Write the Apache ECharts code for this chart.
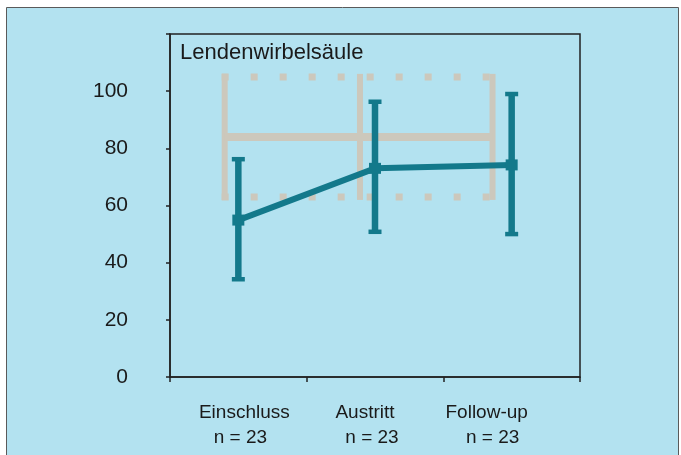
<!DOCTYPE html>
<html><head><meta charset="utf-8">
<script src="https://cdn.jsdelivr.net/npm/echarts@6/dist/echarts.min.js"></script>
<style>html,body{margin:0;padding:0;background:#fff}#c{width:681px;height:455px}</style>
</head><body><div id="c"></div>
<script>
// ---- data ----
const categories = ['Einschluss', 'Austritt', 'Follow-up'];
const sampleSizes = [23, 23, 23];
const means = [54.9, 73.0, 74.2];
const lowerBounds = [34.2, 50.8, 50.0];
const upperBounds = [76.2, 96.3, 99.0];
const normX = [-0.1, 0.89, 1.86];          // reference frame positions (category units)
const normValues = [63, 84, 105];          // lower, mean, upper of reference
const yTickLabels = [0, 20, 40, 60, 80, 100];
const panelTitle = 'Lendenwirbelsäule';

// ---- style ----
const FONT = '"Liberation Sans", Arial, sans-serif';
const TEAL = '#13798b';
const GRAY = '#ccc8bc';
const INK = '#1a1a1a';
const labelShift = [[6, 2], [-10, -3], [-25, -19]];

function pad(s) { return s >= 0 ? [0, 0, 0, 2 * s] : [0, -2 * s, 0, 0]; }
const rich = {};
categories.forEach((c, i) => {
  rich['a' + i] = { fontSize: 19, fontFamily: FONT, color: INK, lineHeight: 25, align: 'center', padding: pad(labelShift[i][0]) };
  rich['b' + i] = { fontSize: 19, fontFamily: FONT, color: INK, lineHeight: 25, align: 'center', padding: pad(labelShift[i][1]) };
});

const chart = echarts.init(document.getElementById('c'), null, { renderer: 'canvas' });
chart.setOption({
  backgroundColor: '#ffffff',
  animation: false,
  graphic: { elements: [{
    type: 'rect', z: -100, silent: true,
    shape: { x: 6.5, y: 7.5, width: 672, height: 460 },
    style: { fill: '#b3e2f0', stroke: '#5a5a5a', lineWidth: 1 }
  }] },
  title: {
    text: panelTitle, left: 180, top: 42, padding: 0,
    textStyle: { fontSize: 22, fontWeight: 'normal', color: INK, fontFamily: FONT }
  },
  grid: { left: 170, right: 101, top: 34, bottom: 78, show: true, borderColor: '#222', borderWidth: 1.5, backgroundColor: 'transparent' },
  xAxis: [{
    type: 'category', data: categories, boundaryGap: true,
    axisLine: { onZero: false, lineStyle: { color: '#222', width: 1.5 } },
    axisTick: { show: true, length: 5, lineStyle: { color: '#222', width: 1.5 } },
    splitLine: { show: false },
    axisLabel: {
      margin: 23, interval: 0,
      formatter: (v, i) => '{a' + i + '|' + v + '}\n{b' + i + '|n = ' + sampleSizes[i] + '}',
      rich: rich
    }
  }, {
    type: 'value', min: -0.5, max: 2.5, show: false,
    axisLine: { onZero: false }
  }],
  yAxis: {
    type: 'value', min: 0, max: 120, interval: 20,
    axisLine: { show: true, onZero: false, lineStyle: { color: '#222', width: 1.5 } },
    axisTick: { show: true, length: 4, lineStyle: { color: '#222', width: 1.5 } },
    splitLine: { show: false },
    axisLabel: {
      margin: 42, fontSize: 21, fontFamily: FONT, color: INK,
      formatter: v => yTickLabels.indexOf(v) >= 0 ? String(v) : ''
    }
  },
  series: [{
    type: 'custom', xAxisIndex: 1, z: 1, silent: true,
    encode: { x: [0, 1, 2], y: [3, 4, 5] },
    data: [[normX[0], normX[1], normX[2], normValues[0], normValues[1], normValues[2]]],
    renderItem: (params, api) => {
      const xs = [api.value(0), api.value(1), api.value(2)];
      const lo = api.value(3), mid = api.value(4), hi = api.value(5);
      const children = [];
      xs.forEach(x => {
        const a = api.coord([x, hi]), b = api.coord([x, lo]);
        children.push({ type: 'line', shape: { x1: a[0], y1: a[1] - 3, x2: b[0], y2: b[1] + 3 }, style: { stroke: GRAY, lineWidth: 6 } });
      });
      const l0 = api.coord([xs[0], hi]), l2 = api.coord([xs[2], hi]);
      children.push({ type: 'line', shape: { x1: l0[0] - 3, y1: l0[1], x2: l2[0] + 3, y2: l2[1] }, style: { stroke: GRAY, lineWidth: 7, lineDash: [7, 22], lineCap: 'butt' } });
      const b0 = api.coord([xs[0], lo]), b2 = api.coord([xs[2], lo]);
      children.push({ type: 'line', shape: { x1: b0[0] - 3, y1: b0[1], x2: b2[0] + 3, y2: b2[1] }, style: { stroke: GRAY, lineWidth: 7, lineDash: [7, 22], lineCap: 'butt' } });
      const m0 = api.coord([xs[0], mid]), m2 = api.coord([xs[2], mid]);
      children.push({ type: 'line', shape: { x1: m0[0], y1: m0[1], x2: m2[0], y2: m2[1] }, style: { stroke: GRAY, lineWidth: 8 } });
      return { type: 'group', children };
    }
  }, {
    type: 'custom', xAxisIndex: 0, z: 3, silent: true,
    encode: { x: 0, y: [1, 2] },
    data: categories.map((c, i) => [i, lowerBounds[i], upperBounds[i]]),
    renderItem: (params, api) => {
      const x = api.value(0);
      const l = api.coord([x, api.value(1)]);
      const h = api.coord([x, api.value(2)]);
      const capW = 13, capH = 4.5, barW = 6.5;
      return { type: 'group', children: [
        { type: 'rect', shape: { x: l[0] - barW / 2, y: h[1], width: barW, height: l[1] - h[1] }, style: { fill: TEAL } },
        { type: 'rect', shape: { x: h[0] - capW / 2, y: h[1] - capH / 2, width: capW, height: capH }, style: { fill: TEAL } },
        { type: 'rect', shape: { x: l[0] - capW / 2, y: l[1] - capH / 2, width: capW, height: capH }, style: { fill: TEAL } }
      ] };
    }
  }, {
    type: 'line', xAxisIndex: 0, z: 4, silent: true,
    data: means,
    symbol: 'rect', symbolSize: [12, 11], showSymbol: true,
    itemStyle: { color: TEAL },
    lineStyle: { color: TEAL, width: 6 }
  }]
});
</script>
</body></html>
